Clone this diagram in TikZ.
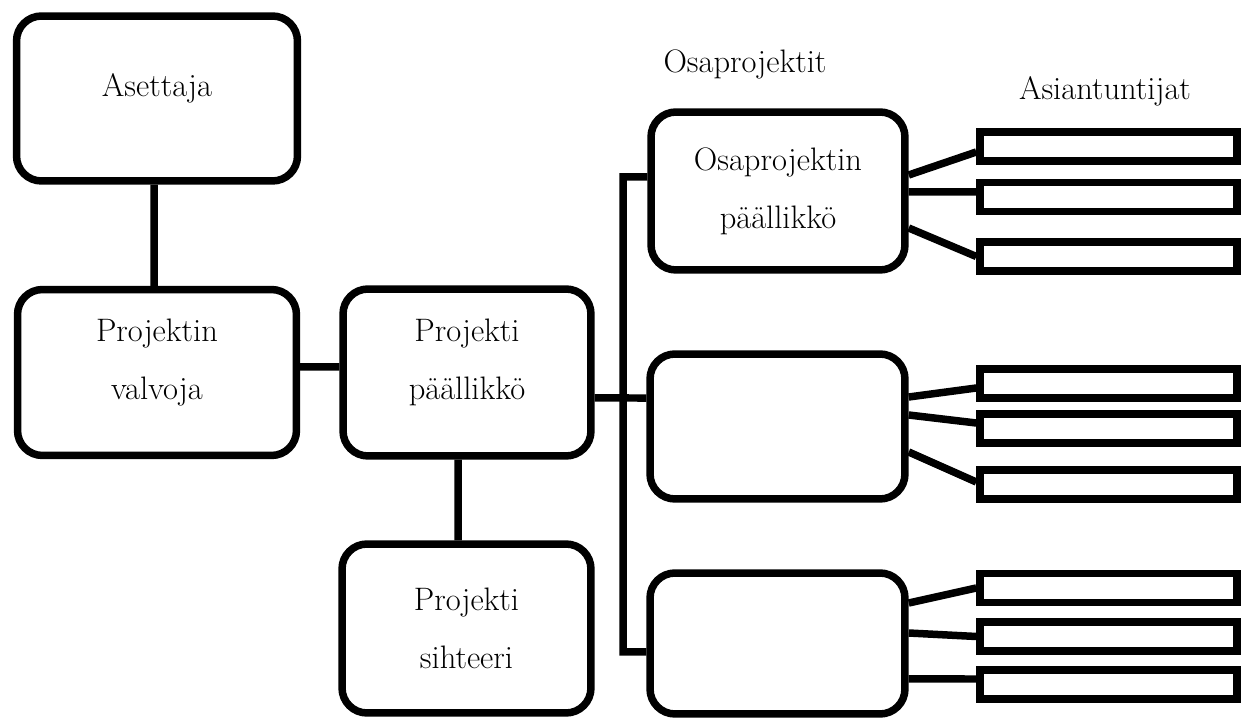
\documentclass[tikz,border=0pt]{standalone}
\usepackage{tikz}
\usetikzlibrary{calc}
\tikzset{blk/.style={draw, rounded corners=0.5cm, line width=0.15cm, align=center, inner sep=0pt, font=\fontsize{18.5}{33}\selectfont},slot/.style={draw, line width=0.15cm, minimum width=5.14cm, minimum height=0.58cm, inner sep=0pt},lbl/.style={inner sep=0pt, anchor=base, font=\fontsize{18.5}{33}\selectfont}}
\tikzset{thkedge/.style={line width=0.15cm},upt/.style={text depth=0.55cm}}

\begin{document}
\begin{tikzpicture}[x=0.02cm, y=-0.02cm]
\useasboundingbox (0,0) rectangle (1242,719);
\node[blk, upt, minimum width=5.62cm, minimum height=3.3cm] (ase) at (157,98.5) {Asettaja};
\node[blk, upt, minimum width=5.58cm, minimum height=3.32cm] (val) at (157,372.5) {Projektin\\valvoja};
\node[blk, upt, minimum width=4.96cm, minimum height=3.34cm] (pp) at (467,372.5) {Projekti\\päällikkö};
\node[blk, minimum width=4.98cm, minimum height=3.38cm] (sih) at (466.5,628.5) {Projekti\\sihteeri};
\node[blk, minimum width=5.08cm, minimum height=3.16cm] (op1) at (778,191) {Osaprojektin\\päällikkö};
\node[blk, minimum width=5.1cm, minimum height=2.9cm] (op2) at (777.5,426.5) {};
\node[blk, minimum width=5.1cm, minimum height=2.82cm] (op3) at (777.5,643.5) {};
\node[lbl] (osa) at (745,73) {Osaprojektit};
\node[lbl] (asi) at (1105,100) {Asiantuntijat};
\node[slot] (t1) at (1108.5,146.5) {};
\node[slot] (t2) at (1108.5,197) {};
\node[slot] (t3) at (1108.5,256.5) {};
\node[slot] (t4) at (1108.5,383.5) {};
\node[slot] (t5) at (1108.5,428.5) {};
\node[slot] (t6) at (1108.5,484.5) {};
\node[slot] (t7) at (1108.5,588) {};
\node[slot] (t8) at (1108.5,636.5) {};
\node[slot] (t9) at (1108.5,684.5) {};
\coordinate (bt) at (623,177);
\coordinate (bb) at (623,652);
\draw[thkedge] ([xshift=-0.06cm]ase.south) -- ([xshift=-0.06cm]val.north)
([yshift=0.11cm]val.east) -- ([yshift=0.11cm]pp.west)
([xshift=-0.18cm]pp.south) -- ([xshift=-0.17cm]sih.north)
([yshift=-0.51cm]pp.east) -- ([yshift=0.57cm]op2.west);
\draw[thkedge] ([yshift=0.28cm]op1.west) -- (bt) -- (bb) -- ([yshift=-0.17cm]op3.west);
\draw[thkedge] ([yshift=0.32cm]op1.east) -- ([yshift=-0.11cm]t1.west)
([yshift=-0.02cm]op1.east) -- ([yshift=0.1cm]t2.west)
([yshift=-0.74cm]op1.east) -- (t3.west)
([yshift=0.59cm]op2.east) -- ([yshift=-0.09cm]t4.west)
([yshift=0.23cm]op2.east) -- ([yshift=0.11cm]t5.west)
([yshift=-0.51cm]op2.east) -- ([yshift=0.05cm]t6.west)
([yshift=0.81cm]op3.east) -- (t7.west)
([yshift=0.21cm]op3.east) -- (t8.west)
([yshift=-0.71cm]op3.east) -- ([yshift=0.11cm]t9.west);
\end{tikzpicture}
\end{document}
